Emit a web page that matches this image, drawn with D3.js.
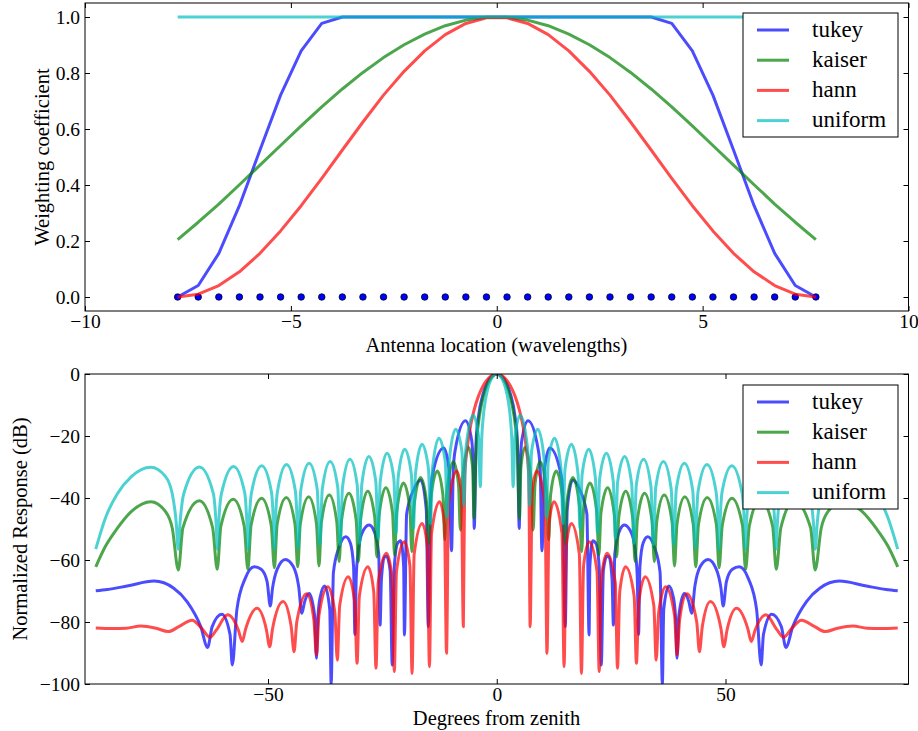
<!DOCTYPE html>
<html><head><meta charset="utf-8">
<script src="https://cdnjs.cloudflare.com/ajax/libs/d3/7.8.5/d3.min.js"></script>
<style>
body{margin:0;background:#fff}
svg{display:block}
text{font-family:"Liberation Serif","DejaVu Serif",serif;fill:#000}
</style>
</head><body>
<svg id="c" width="918" height="731"></svg>
<script>
// ---------- data: top panel (weights) ----------
const seriesNames = ["tukey", "kaiser", "hann", "uniform"];
const elementPositions = [-7.75,-7.25,-6.75,-6.25,-5.75,-5.25,-4.75,-4.25,-3.75,-3.25,-2.75,-2.25,-1.75,-1.25,-0.75,-0.25,
  0.25,0.75,1.25,1.75,2.25,2.75,3.25,3.75,4.25,4.75,5.25,5.75,6.25,6.75,7.25,7.75];
const tukeyWeights = [0,0.041,0.156,0.326,0.525,0.721,0.879,0.977,1,1,1,1,1,1,1,1,
  1,1,1,1,1,1,1,1,0.977,0.879,0.721,0.525,0.326,0.156,0.041,0];
const kaiserWeights = [0.205,0.267,0.332,0.401,0.471,0.541,0.611,0.679,0.743,0.802,0.855,0.901,0.939,0.969,0.989,0.999,
  0.999,0.989,0.969,0.939,0.901,0.855,0.802,0.743,0.679,0.611,0.541,0.471,0.401,0.332,0.267,0.205];
const hannWeights = [0,0.010,0.041,0.090,0.156,0.236,0.326,0.424,0.525,0.625,0.721,0.806,0.879,0.937,0.977,0.997,
  0.997,0.977,0.937,0.879,0.806,0.721,0.625,0.525,0.424,0.326,0.236,0.156,0.090,0.041,0.010,0];
const uniformWeights = [1,1,1,1,1,1,1,1,1,1,1,1,1,1,1,1,1,1,1,1,1,1,1,1,1,1,1,1,1,1,1,1];
const weightTicksX = [-10,-5,0,5,10];
const weightTicksY = [0,0.2,0.4,0.6,0.8,1.0];

// ---------- data: bottom panel (response in dB), read for 0..+90 deg; the picture is mirror-symmetric ----------
const tukeyResponseHalf = [
[0,0],[1,-0.63],[2,-2.64],[3,-6.47],[4,-13.76],[4.5,-21.2],
[4.92,-49.8],[5.1,-32.1],[5.48,-21.4],[6.85,-15.1],[9.07,-24.4],[9.5,-30.9],
[9.88,-57.0],[10.45,-30.5],[11.6,-23.9],[14.0,-32.2],[14.4,-37.5],
[14.97,-81.5],[15.4,-43.8],[16.6,-34.2],[18.0,-36.9],[19.7,-45.2],
[20.18,-84.2],[20.35,-62],[21.0,-53.8],[21.7,-54.7],[22.4,-62.4],
[22.85,-93.9],[23.3,-63.5],[24.1,-58.8],[24.5,-59.0],[25.2,-66],
[25.5,-81],[25.8,-58],[27.0,-50],[27.9,-48.7],[29.5,-51.5],[30.4,-58.8],[30.7,-65],
[31.0,-84],[31.3,-62],[32.0,-54.5],[33.0,-52.5],[34.5,-56],[35.7,-64],
[36.2,-100],[36.5,-76],[37.6,-68.4],[38.6,-72],[39.1,-79],
[39.4,-91.7],[39.8,-78],[41.0,-70.8],[42.0,-73.5],
[42.6,-77.2],[43.3,-68.5],[44.5,-62],[46.2,-59.8],[48.0,-63],[49.0,-69],
[49.5,-74.8],[50.2,-67],[51.5,-63],[53.0,-62.2],[55.0,-66],[56.8,-76],
[57.8,-93.9],[58.3,-84],[60.1,-77.5],[62.2,-81.5],
[63.2,-88.2],[64.7,-81.5],[67.7,-73.4],[70.6,-69.1],[74.9,-66.8],[80.8,-68.4],[85.1,-69.5],[87.65,-69.9]
];
const kaiserResponseHalf = [
[0,0],[1,-0.76],[2,-3.15],[3,-7.65],[3.5,-11.1],[4,-15.9],[4.5,-23.9],
[4.96,-46.6],[5.28,-30.1],[6.17,-23.7],[7.57,-34.6],
[7.96,-50.3],[8.36,-35.6],[9.49,-28.3],[10.93,-38.3],
[11.35,-53.5],[11.77,-39.0],[13.0,-31.3],[14.46,-40.9],
[14.89,-55.0],[15.33,-41.4],[16.64,-33.4],[18.11,-42.9],
[18.55,-57.3],[19.0,-43.3],[20.38,-35.2],[21.86,-44.5],
[22.32,-58.4],[22.78,-44.8],[24.24,-36.7],[25.73,-45.8],
[26.2,-59.0],[26.68,-46.1],[28.2,-37.8],[29.74,-46.8],
[30.24,-60.5],[30.73,-47.1],[32.3,-38.5],[33.93,-47.3],
[34.45,-60.5],[34.97,-47.6],[36.6,-39.0],[38.33,-47.8],
[38.85,-61.9],[39.41,-48.2],[41.1,-39.6],[42.94,-48.4],
[43.5,-62.2],[44.1,-48.5],[46.0,-39.8],[48.0,-48.5],
[48.6,-62.5],[49.3,-48.8],[51.4,-40.1],[53.7,-48.8],
[54.4,-63.0],[55.2,-49.1],[57.6,-40.4],[60.3,-49.1],
[61.1,-63.0],[62.1,-49.6],[65.0,-40.9],[68.6,-49.6],
[69.6,-63.2],[70.9,-49.9],[72.4,-44.4],[75.6,-41.2],[79.9,-44.4],[83.0,-49.9],[85.5,-55.5],[87.65,-62.2]
];
const hannResponseHalf = [
[0,0],[1,-0.41],[2,-1.67],[3,-3.86],[4,-7.14],[5,-11.87],[6,-19.0],[6.5,-24.6],[7.0,-32.9],
[7.3,-81.5],[7.74,-38.2],[8.75,-31.3],[10.54,-42.0],
[10.98,-90.1],[11.43,-48.3],[12.5,-41.2],[14.26,-51.5],
[14.71,-94.4],[15.17,-55.7],[16.3,-48.2],[18.05,-58.1],
[18.51,-96.6],[18.98,-61.9],[20.2,-54.1],[21.92,-63.7],
[22.39,-96.0],[22.87,-65.8],[24.1,-57.8],[25.91,-67.3],
[26.39,-94.9],[26.89,-70.2],[28.15,-62.2],[30.03,-71.6],
[30.53,-93.3],[31.05,-73.5],[32.45,-65.4],[34.33,-74.7],
[34.85,-92.3],[35.4,-76.8],[36.9,-68.6],[38.86,-77.8],
[39.41,-90.6],[39.99,-79.1],[41.55,-70.9],[43.71,-80.0],
[44.3,-89.6],[44.94,-81.4],[46.7,-73.4],[48.99,-82.0],
[49.63,-88.0],[50.35,-82.5],[52.4,-75.6],[54.9,-82.3],
[55.63,-86.3],[56.5,-82.5],[58.8,-77.7],[61.3,-82.6],
[62.7,-84.9],[64.5,-82.0],[66.6,-79.4],[69.5,-81.5],
[71.8,-83.1],[74.5,-82.0],[77.8,-81.3],[81.0,-82.0],[84.0,-82.1],[87.65,-81.9]
];
const uniformResponseHalf = [
[0,0],[1,-1.14],[2,-5.02],[2.5,-8.61],[3,-14.6],[3.3,-21.4],
[3.58,-36.3],[4.0,-19.9],[5.15,-13.3],[6.75,-24.1],
[7.18,-42.3],[7.61,-25.0],[8.99,-17.8],[10.37,-27.7],
[10.81,-46.0],[11.25,-28.3],[12.64,-20.7],[14.03,-30.2],
[14.48,-48.2],[14.92,-30.7],[16.33,-22.7],[17.76,-32.1],
[18.21,-49.8],[18.66,-32.4],[20.11,-24.3],[21.56,-33.5],
[22.02,-51.4],[22.49,-33.8],[23.97,-25.6],[25.47,-34.7],
[25.94,-53.0],[26.42,-34.9],[27.95,-26.6],[29.5,-35.6],
[30.0,-54.6],[30.5,-35.8],[32.09,-27.5],[33.71,-36.4],
[34.23,-55.0],[34.75,-36.6],[36.42,-28.2],[38.13,-37.1],
[38.68,-55.0],[39.24,-37.2],[41.01,-28.8],[42.84,-37.6],
[43.43,-56.0],[43.64,-47.2],[44.02,-37.7],[45.95,-29.2],[47.94,-38.0],[48.38,-47.6],
[48.59,-56.5],[48.82,-47.6],[49.24,-38.1],[51.38,-29.6],[53.61,-38.3],[54.11,-47.8],
[54.34,-56.5],[54.61,-47.8],[55.08,-38.4],[57.53,-29.8],[60.18,-38.6],[60.77,-47.9],
[61.04,-56.5],[61.35,-48.0],[61.94,-38.6],[64.99,-30.0],[68.43,-38.7],[69.23,-48.1],
[69.64,-56.5],[70.05,-48.1],[70.91,-38.8],[72.39,-33.1],[75.64,-30.1],[79.86,-33.1],[83.0,-38.8],[85.47,-46.2],[87.65,-56.5]
];
const responseTicksX = [-50,0,50];
const responseTicksY = [-100,-80,-60,-40,-20,0];

// ---------- styles ----------
const colors = {tukey:"#0000ff", kaiser:"#008000", hann:"#ff0000", uniform:"#00bfbf"};
const lineW = 3, lineAlpha = 0.7;
const tickFs = 19.5, labelFs = 20.5, legendFs = 23;

// full (both-sided) tables built from the half readings
function bothSides(half){
  const left = half.slice(1).map(p => [-p[0], p[1]]).reverse();
  return left.concat(half);
}
const responses = {
  tukey: bothSides(tukeyResponseHalf),
  kaiser: bothSides(kaiserResponseHalf),
  hann: bothSides(hannResponseHalf),
  uniform: bothSides(uniformResponseHalf)
};
const weights = {tukey:tukeyWeights, kaiser:kaiserWeights, hann:hannWeights, uniform:uniformWeights};

const svg = d3.select("#c");
const L = 85, R = 908.5;
const top1 = 3, bot1 = 311, top2 = 374, bot2 = 684;

function frame(g, x, y, xt, yt, fmtY, fmtX){
  const top = y.range()[1], bot = y.range()[0];
  const ax = g.append("g").attr("transform",`translate(0,${bot})`)
    .call(d3.axisBottom(x).tickValues(xt).tickSizeInner(-5).tickSizeOuter(0).tickPadding(3).tickFormat(fmtX));
  const axT = g.append("g").attr("transform",`translate(0,${top})`)
    .call(d3.axisTop(x).tickValues(xt).tickSizeInner(-5).tickSizeOuter(0).tickFormat(""));
  const ay = g.append("g").attr("transform",`translate(${L},0)`)
    .call(d3.axisLeft(y).tickValues(yt).tickSizeInner(-5).tickSizeOuter(0).tickPadding(5).tickFormat(fmtY));
  const ayR = g.append("g").attr("transform",`translate(${R},0)`)
    .call(d3.axisRight(y).tickValues(yt).tickSizeInner(-5).tickSizeOuter(0).tickFormat(""));
  [ax,axT,ay,ayR].forEach(a=>{
    a.select(".domain").remove();
    a.selectAll(".tick line").attr("stroke","#000").attr("stroke-width",1);
    a.selectAll("text").attr("font-size",tickFs).attr("fill","#000");
  });
  ax.selectAll("text").attr("dy","0.74em");
}

function border(g, top, bot){
  g.append("rect").attr("x",L).attr("y",top).attr("width",R-L).attr("height",bot-top)
    .attr("fill","none").attr("stroke","#000").attr("stroke-width",1);
}

function legend(g, x0, y0){
  g.append("rect").attr("x",x0).attr("y",y0).attr("width",155).attr("height",124)
    .attr("fill","#fff").attr("stroke","#000").attr("stroke-width",1);
  seriesNames.forEach((n,i)=>{
    const cy = y0 + 17 + i*30.2;
    g.append("line").attr("x1",x0+14).attr("x2",x0+46).attr("y1",cy).attr("y2",cy)
      .attr("stroke",colors[n]).attr("stroke-opacity",lineAlpha).attr("stroke-width",lineW);
    g.append("text").attr("x",x0+69).attr("y",cy+6.5).attr("font-size",legendFs).text(n);
  });
}

// ===== Top panel =====
const x1 = d3.scaleLinear().domain([-10,10]).range([L,R]);
const y1 = d3.scaleLinear().domain([-0.05,1.05]).range([bot1,top1]);
const g1 = svg.append("g");
g1.append("clipPath").attr("id","clip1").append("rect").attr("x",L).attr("y",top1).attr("width",R-L).attr("height",bot1-top1);
const p1 = g1.append("g").attr("clip-path","url(#clip1)");
p1.selectAll("circle").data(elementPositions).enter().append("circle")
  .attr("cx",d=>x1(d)).attr("cy",y1(0)).attr("r",3.3)
  .attr("fill","#0000ff").attr("stroke","#000").attr("stroke-width",0.7);
const wline = d3.line().x((d,i)=>x1(elementPositions[i])).y(d=>y1(d));
seriesNames.forEach(n=>{
  p1.append("path").attr("d",wline(weights[n])).attr("fill","none")
    .attr("stroke",colors[n]).attr("stroke-opacity",lineAlpha).attr("stroke-width",lineW)
    .attr("stroke-linejoin","round");
});
frame(g1, x1, y1, weightTicksX, weightTicksY, d3.format(".1f"), d3.format("d"));
border(g1, top1, bot1);
legend(g1, 743, 13);
g1.append("text").attr("x",496.5).attr("y",352).attr("text-anchor","middle").attr("font-size",labelFs)
  .text("Antenna location (wavelengths)");
g1.append("text").attr("transform",`translate(49,${(top1+bot1)/2}) rotate(-90)`).attr("text-anchor","middle")
  .attr("font-size",labelFs).text("Weighting coefficient");

// ===== Bottom panel =====
const x2 = d3.scaleLinear().domain([-90,90]).range([L,R]);
const y2 = d3.scaleLinear().domain([-100,0]).range([bot2,top2]);
const g2 = svg.append("g");
g2.append("clipPath").attr("id","clip2").append("rect").attr("x",L).attr("y",top2).attr("width",R-L).attr("height",bot2-top2);
const p2 = g2.append("g").attr("clip-path","url(#clip2)");
const rline = d3.line().x(d=>x2(d[0])).y(d=>y2(d[1])).curve(d3.curveMonotoneX);
seriesNames.forEach(n=>{
  p2.append("path").attr("d",rline(responses[n])).attr("fill","none")
    .attr("stroke",colors[n]).attr("stroke-opacity",lineAlpha).attr("stroke-width",lineW)
    .attr("stroke-linejoin","round");
});
frame(g2, x2, y2, responseTicksX, responseTicksY, d3.format("d"), d3.format("d"));
border(g2, top2, bot2);
legend(g2, 743, 385);
g2.append("text").attr("x",496.5).attr("y",724.5).attr("text-anchor","middle").attr("font-size",labelFs)
  .text("Degrees from zenith");
g2.append("text").attr("transform",`translate(26.5,${(top2+bot2)/2}) rotate(-90)`).attr("text-anchor","middle")
  .attr("font-size",labelFs).text("Normalized Response (dB)");
</script>
</body></html>
